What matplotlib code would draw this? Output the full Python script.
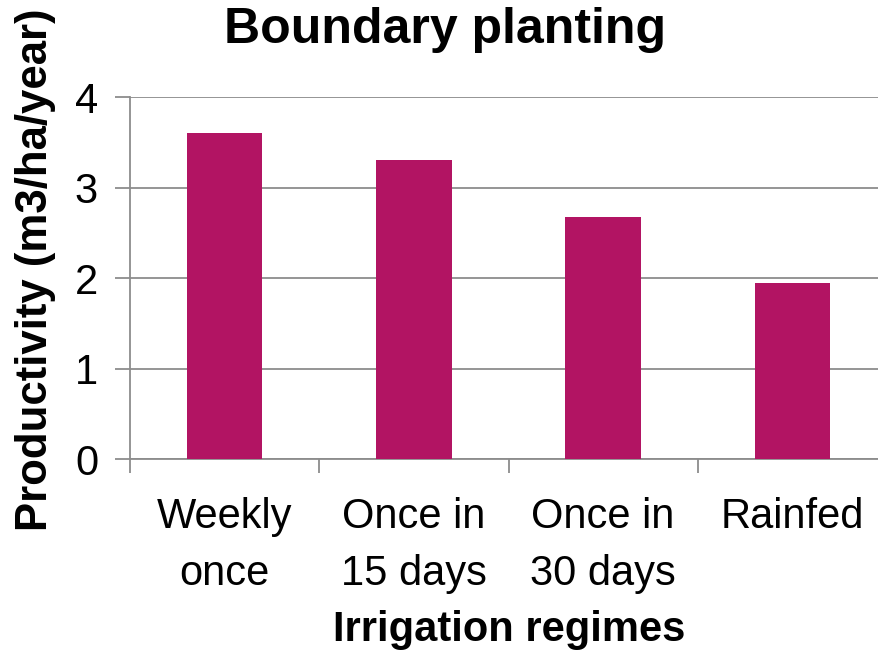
import matplotlib
matplotlib.use("Agg")
import matplotlib.pyplot as plt
import numpy as np

# Chart data
categories = ["Weekly\nonce", "Once in\n15 days", "Once in\n30 days", "Rainfed"]
productivity = [3.61, 3.31, 2.68, 1.95]
y_ticks = [0, 1, 2, 3, 4]

BAR_COLOR = "#B21463"
GRID_COLOR = "#8C8C8C"
FONT = "Liberation Sans"

plt.rcParams["font.family"] = [FONT, "DejaVu Sans"]

fig = plt.figure(figsize=(8.79, 6.5), dpi=100)
ax = fig.add_axes([0.1479, 0.2938, 0.8612, 0.5562])

x = np.arange(len(categories))
ax.bar(x, productivity, width=0.4, color=BAR_COLOR, zorder=3)

ax.set_xlim(-0.5, len(categories) - 0.5)
ax.set_ylim(0, 4)

# y axis
ax.set_yticks(y_ticks)
ax.set_yticklabels([str(v) for v in y_ticks], fontsize=30)
ax.tick_params(axis="y", length=11, width=1.3, color=GRID_COLOR, pad=12)
ax.yaxis.grid(True, color=GRID_COLOR, linewidth=1.3, zorder=0)

# x axis: boundary ticks, centred labels
ax.set_xticks(np.arange(len(categories) + 1) - 0.5)
ax.set_xticklabels([])
ax.set_xticks(x, minor=True)
ax.set_xticklabels(categories, minor=True, fontsize=30, linespacing=1.55)
ax.tick_params(axis="x", which="major", length=10, width=1.3, color=GRID_COLOR)
ax.tick_params(axis="x", which="minor", length=0, pad=27)

for side in ["top", "right"]:
    ax.spines[side].set_visible(False)
for side in ["left", "bottom"]:
    ax.spines[side].set_color(GRID_COLOR)
    ax.spines[side].set_linewidth(1.3)

fig.text(0.506, 0.934, "Boundary planting", fontsize=36, fontweight="bold",
         ha="center", va="baseline")
fig.text(0.040, 0.585, "Productivity (m3/ha/year)", fontsize=31.5, fontweight="bold",
         rotation=90, ha="center", va="center")
fig.text(0.579, 0.014, "Irrigation regimes", fontsize=30, fontweight="bold",
         ha="center", va="baseline")

fig.savefig("out.png", dpi=100)
